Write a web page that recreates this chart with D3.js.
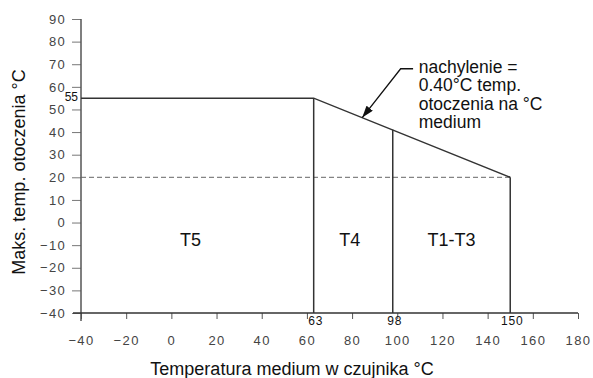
<!DOCTYPE html>
<html>
<head>
<meta charset="utf-8">
<script src="https://cdn.jsdelivr.net/npm/d3@7"></script>
<style>
  body { margin: 0; background: #fff; }
  text { font-family: "Liberation Sans", Arial, sans-serif; }
</style>
</head>
<body>
<div id="chart"></div>
<script>
// chart values
const xTicks = [-40, -20, 0, 20, 40, 60, 80, 100, 120, 140, 160, 180];
const yTicks = [-40, -30, -20, -10, 0, 10, 20, 30, 40, 50, 60, 70, 80, 90];
const limitLine = [[-40, 55], [63, 55], [150, 20]];
const dividerX = [63, 98, 150];
const dividerTop = [55, 41, 20];
const zoneLabels = ['T5', 'T4', 'T1-T3'];
const zoneX = [8.5, 79, 124];
const minLimit = 20;
const maxLabel = 55;
const noteLines = ['nachylenie =', '0.40°C temp.', 'otoczenia na °C', 'medium'];

const width = 593, height = 378;
const svg = d3.select('#chart').append('svg')
  .attr('width', width)
  .attr('height', height);

// scales
const x = d3.scaleLinear().domain([-40, 180]).range([81, 578]);
const y = d3.scaleLinear().domain([-40, 90]).range([313, 19]);

const ink = '#333';
const fmt = d => d < 0 ? '\u2212' + Math.abs(d) : String(d);

// y axis
const yAxis = svg.append('g')
  .attr('transform', `translate(${x(-40)},0)`)
  .call(d3.axisLeft(y).tickValues(yTicks).tickSize(9).tickPadding(6).tickFormat(fmt));
yAxis.select('.domain').remove();
yAxis.selectAll('line').attr('stroke', '#777');
yAxis.selectAll('text')
  .attr('font-size', 13)
  .attr('fill', '#444')
  .attr('letter-spacing', 1.3)
  .attr('font-family', '"Liberation Sans", Arial, sans-serif');
svg.append('line')
  .attr('x1', x(-40)).attr('x2', x(-40))
  .attr('y1', y(90)).attr('y2', y(-40) + 8)
  .attr('stroke', '#555').attr('stroke-width', 1.5);

// x axis
const xAxis = svg.append('g')
  .attr('transform', `translate(0,${y(-40)})`)
  .call(d3.axisBottom(x).tickValues(xTicks).tickSize(6).tickPadding(17).tickFormat(fmt));
xAxis.select('.domain').remove();
xAxis.selectAll('line').attr('stroke', '#555');
xAxis.selectAll('text')
  .attr('font-size', 13)
  .attr('fill', '#444')
  .attr('letter-spacing', 1.4)
  .attr('font-family', '"Liberation Sans", Arial, sans-serif');
svg.append('line')
  .attr('x1', x(-40) - 8).attr('x2', x(180))
  .attr('y1', y(-40)).attr('y2', y(-40))
  .attr('stroke', '#333').attr('stroke-width', 1.3);

// axis titles
svg.append('text')
  .attr('x', 292)
  .attr('y', 375)
  .attr('text-anchor', 'middle')
  .attr('font-size', 18)
  .attr('fill', '#111')
  .text('Temperatura medium w czujnika °C');

svg.append('text')
  .attr('transform', 'translate(25,172) rotate(-90)')
  .attr('text-anchor', 'middle')
  .attr('font-size', 18)
  .attr('fill', '#111')
  .text('Maks. temp. otoczenia °C');

// dashed minimum line
svg.append('line')
  .attr('x1', x(-40)).attr('x2', x(150))
  .attr('y1', y(minLimit)).attr('y2', y(minLimit))
  .attr('stroke', '#666')
  .attr('stroke-width', 1)
  .attr('stroke-dasharray', '5,3');

// limit line
svg.append('path')
  .datum(limitLine)
  .attr('fill', 'none')
  .attr('stroke', ink)
  .attr('stroke-width', 1.5)
  .attr('d', d3.line().x(d => x(d[0])).y(d => y(d[1])));

// dividers
svg.selectAll('.divider')
  .data(dividerX)
  .enter().append('line')
  .attr('class', 'divider')
  .attr('x1', d => x(d)).attr('x2', d => x(d))
  .attr('y1', (d, i) => y(dividerTop[i]))
  .attr('y2', y(-40))
  .attr('stroke', ink)
  .attr('stroke-width', 1.5);

svg.selectAll('.divlabel')
  .data(dividerX)
  .enter().append('text')
  .attr('class', 'divlabel')
  .attr('x', d => x(d) + 2)
  .attr('y', y(-40) + 12)
  .attr('text-anchor', 'middle')
  .attr('font-size', 12)
  .attr('letter-spacing', 0.8)
  .attr('fill', '#111')
  .text(d => d);

// 55 label
svg.append('text')
  .attr('x', x(-40) - 3)
  .attr('y', y(maxLabel) + 3)
  .attr('text-anchor', 'end')
  .attr('font-size', 12)
  .attr('fill', '#111')
  .text(maxLabel);

// zone labels
svg.selectAll('.zone')
  .data(zoneLabels)
  .enter().append('text')
  .attr('class', 'zone')
  .attr('x', (d, i) => x(zoneX[i]))
  .attr('y', y(-10) + 1)
  .attr('text-anchor', 'middle')
  .attr('font-size', 18)
  .attr('fill', '#111')
  .text(d => d);

// annotation
svg.append('defs').append('marker')
  .attr('id', 'arrow')
  .attr('viewBox', '0 0 12 8')
  .attr('refX', 12).attr('refY', 4)
  .attr('markerWidth', 12).attr('markerHeight', 8)
  .attr('markerUnits', 'userSpaceOnUse')
  .attr('orient', 'auto')
  .append('path')
  .attr('d', 'M0,0 L12,4 L0,8 Z')
  .attr('fill', '#111');

const tipX = 84.5;
const tipY = 55 - 0.40 * (tipX - 63);
svg.append('path')
  .attr('fill', 'none')
  .attr('stroke', '#111')
  .attr('stroke-width', 1.3)
  .attr('marker-end', 'url(#arrow)')
  .attr('d', `M${x(107)},${y(68)} L${x(101.5)},${y(68)} L${x(tipX)},${y(tipY)}`);

svg.append('text')
  .attr('x', x(109.5))
  .attr('y', 73)
  .attr('font-size', 17.5)
  .attr('fill', '#111')
  .selectAll('tspan')
  .data(noteLines)
  .enter().append('tspan')
  .attr('x', x(109.5))
  .attr('dy', (d, i) => i === 0 ? 0 : 18.3)
  .text(d => d);
</script>
</body>
</html>
